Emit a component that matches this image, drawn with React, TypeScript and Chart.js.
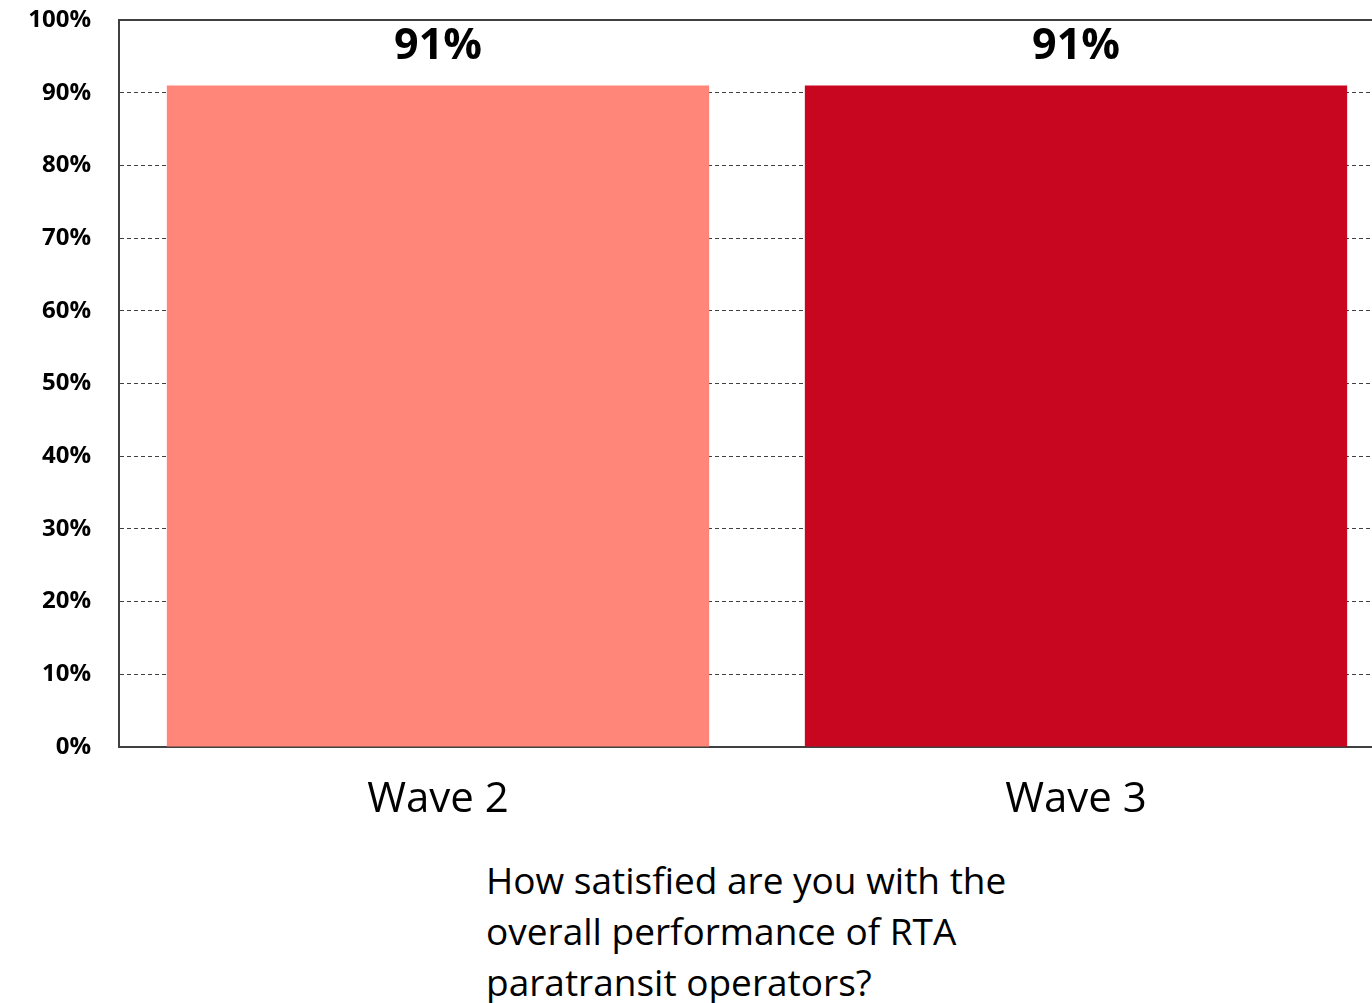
import React, { useEffect, useRef } from "react";
import { Chart, registerables } from "chart.js";

Chart.register(...registerables);

const categories = ["Wave 2", "Wave 3"];
const values = [91, 91];
const barColors = ["#FF8679", "#C90620"];
const yMin = 0;
const yMax = 100;
const yStep = 10;
const titleLines = [
  "How satisfied are you with the",
  "overall performance of RTA",
  "paratransit operators?",
];

const FONT = "'Open Sans', sans-serif";
const AXIS_COLOR = "#404040";

const framePlugin = {
  id: "frame",
  afterDatasetsDraw(chart: any) {
    const { ctx, chartArea } = chart;
    ctx.save();
    ctx.strokeStyle = AXIS_COLOR;
    ctx.lineWidth = 2;
    ctx.beginPath();
    ctx.moveTo(chartArea.left, chartArea.top);
    ctx.lineTo(chartArea.right, chartArea.top);
    ctx.lineTo(chartArea.right, chartArea.bottom);
    ctx.stroke();
    ctx.restore();
  },
};

const labelPlugin = {
  id: "valueLabels",
  afterDatasetsDraw(chart: any) {
    const { ctx } = chart;
    const meta = chart.getDatasetMeta(0);
    ctx.save();
    ctx.fillStyle = "#000";
    ctx.font = `bold 43px ${FONT}`;
    ctx.textAlign = "center";
    ctx.textBaseline = "middle";
    meta.data.forEach((bar: any, i: number) => {
      ctx.fillText(`${values[i]}%`, bar.x, 47);
    });
    ctx.restore();
  },
};

export default function App() {
  const ref = useRef<HTMLCanvasElement | null>(null);

  useEffect(() => {
    if (!ref.current) return;
    const chart = new Chart(ref.current, {
      type: "bar",
      data: {
        labels: categories,
        datasets: [
          {
            data: values,
            backgroundColor: barColors,
            borderWidth: 0,
            barPercentage: 0.85,
            categoryPercentage: 1,
          },
        ],
      },
      options: {
        responsive: false,
        animation: false,
        layout: { padding: { top: 20, right: 5, left: 0, bottom: 0 } },
        plugins: {
          legend: { display: false },
          tooltip: { enabled: false },
          title: { display: false },
        },
        scales: {
          x: {
            offset: true,
            grid: { display: false, drawTicks: false },
            border: { display: true, color: AXIS_COLOR, width: 2 },
            ticks: {
              color: "#000",
              font: { family: FONT, size: 42 },
              padding: 28,
            },
            afterFit(scale: any) {
              scale.height = 830 - 747;
              scale.paddingLeft = 0;
              scale.paddingRight = 0;
            },
          },
          y: {
            min: yMin,
            max: yMax,
            grid: {
              color: AXIS_COLOR,
              lineWidth: 1,
              drawTicks: false,
            },
            border: { display: true, color: AXIS_COLOR, width: 2, dash: [4, 3] },
            ticks: {
              stepSize: yStep,
              color: "#000",
              font: { family: FONT, size: 24, weight: "bold" },
              padding: 28,
              callback: (v: any) => `${v}%`,
            },
            afterFit(scale: any) {
              scale.width = 119;
              scale.paddingTop = 0;
              scale.paddingBottom = 0;
            },
          },
        },
      },
      plugins: [framePlugin, labelPlugin],
    });
    return () => chart.destroy();
  }, []);

  return (
    <div
      style={{
        position: "absolute",
        left: 0,
        top: 0,
        width: 1372,
        height: 1003,
        overflow: "hidden",
        background: "#fff",
      }}
    >
      <canvas
        ref={ref}
        width={1400}
        height={830}
        style={{ position: "absolute", left: 0, top: 0, width: 1400, height: 830 }}
      />
      <div
        style={{
          position: "absolute",
          left: 486,
          top: 854,
          fontFamily: FONT,
          fontSize: 37,
          lineHeight: "51px",
          color: "#000",
          whiteSpace: "nowrap",
        }}
      >
        {titleLines.map((l, i) => (
          <div key={i}>{l}</div>
        ))}
      </div>
    </div>
  );
}
